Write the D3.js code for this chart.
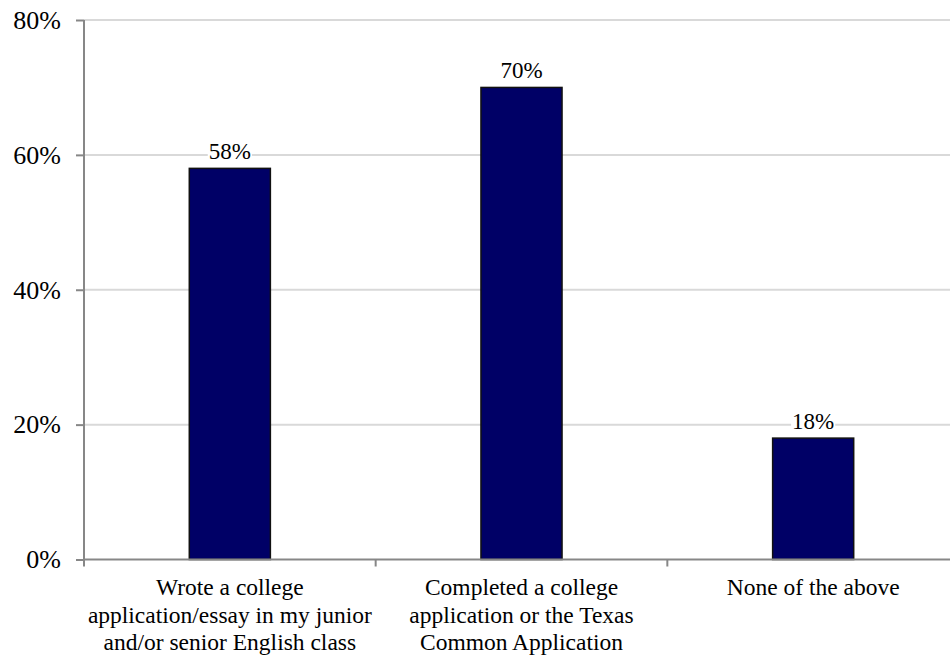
<!DOCTYPE html>
<html>
<head>
<meta charset="utf-8">
<script src="https://cdn.jsdelivr.net/npm/d3@7"></script>
<style>
  html, body { margin: 0; padding: 0; background: #fff; }
  svg { display: block; }
</style>
</head>
<body>
<svg id="chart" width="950" height="656"></svg>
<script>
// Share of students who did each activity
const categories = [
  ["Wrote a college", "application/essay in my junior", "and/or senior English class"],
  ["Completed a college", "application or the Texas", "Common Application"],
  ["None of the above"]
];
const values = [58, 70, 18];
const valueLabels = ["58%", "70%", "18%"];
const yTicks = [0, 20, 40, 60, 80];
const yTickLabels = ["0%", "20%", "40%", "60%", "80%"];

const FONT = "'Liberation Serif', 'Times New Roman', Times, 'DejaVu Serif', serif";

const svg = d3.select("#chart");
const plotLeft = 84, plotRight = 959, plotTop = 20, plotBottom = 559.5;

const keys = categories.map((c, i) => i);
const x = d3.scaleBand().domain(keys).range([plotLeft, plotRight]).padding(0);
const y = d3.scaleLinear().domain([0, 80]).range([plotBottom, plotTop]);
const barW = x.bandwidth() * 0.278;

// horizontal gridlines
svg.append("g")
  .selectAll("line")
  .data(yTicks.filter(t => t > 0))
  .join("line")
  .attr("x1", plotLeft).attr("x2", 950)
  .attr("y1", d => y(d)).attr("y2", d => y(d))
  .attr("stroke", "#d9d9d9")
  .attr("stroke-width", 2);

// y axis
const yAxis = d3.axisLeft(y)
  .tickValues(yTicks)
  .tickFormat((d, i) => yTickLabels[i])
  .tickSize(8)
  .tickPadding(15);
const gy = svg.append("g")
  .attr("transform", `translate(${plotLeft},0)`)
  .call(yAxis)
  .attr("font-family", FONT)
  .attr("font-size", 26);
gy.select(".domain").remove();
gy.selectAll(".tick line").attr("stroke", "#878787").attr("stroke-width", 2);
gy.selectAll(".tick text").attr("fill", "#000");
gy.append("line")
  .attr("x1", 0).attr("x2", 0)
  .attr("y1", plotTop).attr("y2", plotBottom + 7)
  .attr("stroke", "#878787").attr("stroke-width", 2);

// bars
svg.append("g")
  .selectAll("rect")
  .data(values)
  .join("rect")
  .attr("x", (d, i) => x(i) + x.bandwidth() / 2 - barW / 2)
  .attr("y", d => y(d))
  .attr("width", barW)
  .attr("height", d => y(0) - y(d))
  .attr("fill", "#000066")
  .attr("stroke", "#111")
  .attr("stroke-width", 1.5);

// x axis baseline and ticks between categories
svg.append("line")
  .attr("x1", plotLeft).attr("x2", 950)
  .attr("y1", plotBottom).attr("y2", plotBottom)
  .attr("stroke", "#878787").attr("stroke-width", 2);
svg.append("g")
  .selectAll("line")
  .data(keys.slice(1))
  .join("line")
  .attr("x1", d => x(d)).attr("x2", d => x(d))
  .attr("y1", plotBottom).attr("y2", plotBottom + 7)
  .attr("stroke", "#878787").attr("stroke-width", 2);

// value labels
const lbl = svg.append("g")
  .attr("font-family", FONT)
  .attr("font-size", 23)
  .selectAll("g")
  .data(values)
  .join("g")
  .attr("transform", (d, i) => `translate(${x(i) + x.bandwidth() / 2},${y(d) - 9})`);
lbl.append("text")
  .attr("text-anchor", "middle")
  .attr("fill", "#000")
  .text((d, i) => valueLabels[i]);
lbl.each(function() {
  const g = d3.select(this);
  const bb = g.select("text").node().getBBox();
  g.insert("rect", "text")
    .attr("x", bb.x - 1).attr("y", bb.y + 2)
    .attr("width", bb.width + 2).attr("height", bb.height - 4)
    .attr("fill", "#fff");
});

// category labels
svg.append("g")
  .attr("font-family", FONT)
  .attr("font-size", 23.5)
  .selectAll("text")
  .data(categories)
  .join("text")
  .attr("text-anchor", "middle")
  .attr("fill", "#000")
  .attr("x", (d, i) => x(i) + x.bandwidth() / 2)
  .attr("y", 595)
  .selectAll("tspan")
  .data(d => d)
  .join("tspan")
  .attr("x", function() { return this.parentNode.getAttribute("x"); })
  .attr("dy", (d, j) => j === 0 ? 0 : 27.5)
  .text(d => d);
</script>
</body>
</html>
